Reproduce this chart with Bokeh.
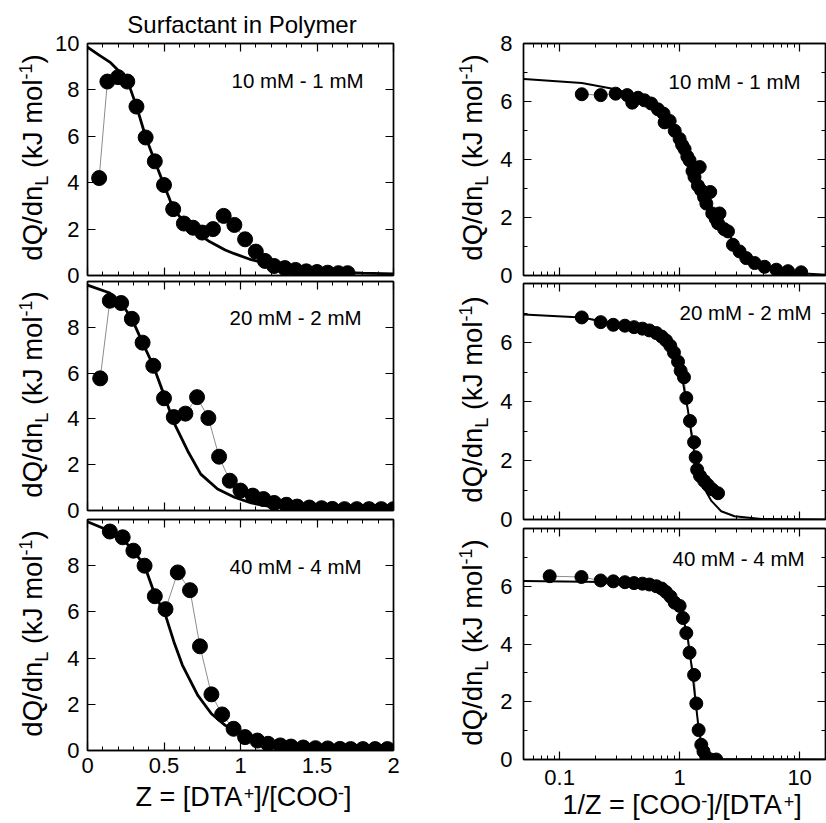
import math
from bokeh.plotting import figure
from bokeh.layouts import row, column
from bokeh.models import (Range1d, FixedTicker, LinearAxis, Label,
                          CustomJSTickFormatter, CustomLabelingPolicy)
from bokeh.embed import file_html
from bokeh.resources import INLINE

FONT = "Liberation Sans"

# ---------------- data ----------------
# Left column: Z = [DTA+]/[COO-]
l1_x = [0.076, 0.13, 0.20, 0.26, 0.32, 0.38, 0.44, 0.50, 0.56, 0.63, 0.69, 0.75, 0.82,
        0.89, 0.96, 1.03, 1.10, 1.16, 1.22, 1.29, 1.36, 1.43, 1.50, 1.57, 1.64, 1.70]
l1_y = [4.2, 8.36, 8.55, 8.36, 7.28, 5.95, 4.92, 3.9, 2.86, 2.24, 2.06, 1.85, 2.0,
        2.57, 2.18, 1.56, 1.03, 0.63, 0.41, 0.32, 0.24, 0.18, 0.15, 0.12, 0.1, 0.1]
l1_fit_x = [0, 0.076, 0.146, 0.2, 0.26, 0.32, 0.38, 0.44, 0.5, 0.56, 0.63, 0.7, 0.8,
            0.9, 0.96, 1.07, 1.18, 1.29, 1.39, 1.5, 1.61, 1.8, 2.0]
l1_fit_y = [9.84, 9.5, 9.2, 8.85, 8.42, 7.3, 5.98, 4.92, 3.9, 2.9, 2.3, 1.9, 1.45,
            1.1, 0.94, 0.68, 0.5, 0.35, 0.24, 0.18, 0.14, 0.1, 0.07]

l2_x = [0.083, 0.146, 0.22, 0.29, 0.36, 0.43, 0.50, 0.564, 0.64, 0.716, 0.79, 0.86, 0.93,
        1.0, 1.08, 1.15, 1.22, 1.30, 1.37, 1.45, 1.53, 1.60, 1.68, 1.76, 1.84, 1.92, 2.0]
l2_y = [5.77, 9.16, 9.06, 8.37, 7.33, 6.32, 4.9, 4.08, 4.23, 4.95, 4.04, 2.35, 1.30,
        0.87, 0.65, 0.5, 0.33, 0.25, 0.17, 0.13, 0.1, 0.07, 0.06, 0.06, 0.06, 0.06, 0.06]
l2_fit_x = [0, 0.146, 0.22, 0.29, 0.36, 0.43, 0.5, 0.564, 0.655, 0.74, 0.85, 0.96,
            1.07, 1.18, 1.39, 1.6, 2.0]
l2_fit_y = [9.84, 9.5, 9.06, 8.37, 7.33, 6.32, 5.05, 3.85, 2.6, 1.59, 0.94, 0.58,
            0.33, 0.19, 0.06, 0.02, 0.0]

l3_x = [0.146, 0.23, 0.30, 0.373, 0.44, 0.51, 0.59, 0.67, 0.735, 0.81, 0.88, 0.955, 1.03,
        1.11, 1.18, 1.26, 1.33, 1.41, 1.49, 1.57, 1.65, 1.72, 1.80, 1.88, 1.96]
l3_y = [9.48, 9.23, 8.65, 8.0, 6.68, 6.12, 7.71, 6.94, 4.51, 2.43, 1.56, 0.94, 0.58,
        0.43, 0.29, 0.22, 0.17, 0.13, 0.10, 0.09, 0.07, 0.06, 0.06, 0.06, 0.06]
l3_fit_x = [0, 0.146, 0.23, 0.30, 0.373, 0.44, 0.51, 0.565, 0.62, 0.72, 0.81, 0.9,
            0.96, 1.07, 1.18, 1.39, 1.6, 2.0]
l3_fit_y = [9.9, 9.5, 9.15, 8.65, 8.0, 6.75, 5.85, 4.7, 3.7, 2.4, 1.59, 1.09,
            0.87, 0.5, 0.29, 0.12, 0.06, 0.03]

# Right column: 1/Z = [COO-]/[DTA+]
r1_x = [0.153, 0.22, 0.293, 0.366, 0.403, 0.45, 0.51, 0.58, 0.66, 0.735, 0.75, 0.826,
        0.91, 1.0, 1.05, 1.1, 1.16, 1.21, 1.28, 1.33, 1.42, 1.47, 1.51, 1.6, 1.67, 1.8,
        1.87, 2.0, 2.09, 2.15, 2.35, 2.53, 2.78, 3.16, 3.59, 4.22, 5.1, 6.4, 8.0, 10.3]
r1_y = [6.25, 6.22, 6.27, 6.22, 5.96, 6.13, 6.04, 5.93, 5.73, 5.58, 5.28, 5.33,
        4.99, 4.71, 4.5, 4.36, 4.1, 3.97, 3.6, 3.40, 3.1, 3.74, 2.94, 2.7, 2.48, 2.88,
        2.14, 1.95, 1.80, 2.14, 1.6, 1.52, 1.06, 0.83, 0.6, 0.43, 0.3, 0.2, 0.15, 0.11]
r1_fit_x = [0.0504, 0.153, 0.27, 0.51, 0.70, 0.91, 1.1, 1.33, 1.62, 1.96, 2.37, 3.06,
            3.96, 5.44, 7.5, 11, 17]
r1_fit_y = [6.78, 6.64, 6.45, 6.13, 5.79, 5.1, 4.42, 3.62, 2.83, 2.14, 1.57, 1.0,
            0.6, 0.32, 0.15, 0.07, 0.02]

r2_x = [0.153, 0.22, 0.28, 0.35, 0.417, 0.49, 0.56, 0.64, 0.71, 0.77, 0.836, 0.897,
        0.97, 1.02, 1.087, 1.137, 1.22, 1.32, 1.36, 1.40, 1.48, 1.6, 1.72, 1.87, 2.09]
r2_y = [6.85, 6.69, 6.60, 6.57, 6.52, 6.47, 6.41, 6.32, 6.2, 6.07, 5.89, 5.66,
        5.35, 5.04, 4.82, 4.12, 3.34, 2.62, 2.11, 1.69, 1.48, 1.31, 1.17, 1.02, 0.89]
r2_fit_x = [0.0504, 0.153, 0.27, 0.51, 0.70, 0.908, 1.046, 1.173, 1.29, 1.40, 1.56,
            1.84, 2.22, 2.87, 4.79, 17]
r2_fit_y = [6.95, 6.85, 6.66, 6.43, 6.2, 5.58, 4.84, 3.7, 2.56, 1.65, 1.14,
            0.63, 0.28, 0.11, 0.02, 0.0]

r3_x = [0.0826, 0.152, 0.22, 0.28, 0.35, 0.417, 0.49, 0.56, 0.64, 0.71, 0.77, 0.84,
        0.91, 1.0, 1.066, 1.137, 1.21, 1.32, 1.377, 1.44, 1.515, 1.58, 1.67, 1.81, 2.02]
r3_y = [6.35, 6.32, 6.2, 6.17, 6.14, 6.11, 6.09, 6.06, 6.0, 5.92, 5.8, 5.64,
        5.43, 5.32, 4.9, 4.38, 3.7, 2.93, 1.94, 1.02, 0.51, 0.28, 0.08, 0.0, 0.0]
r3_fit_x = [0.0504, 0.51, 0.75, 0.908, 1.066, 1.173, 1.267, 1.35, 1.44, 1.535, 1.67,
            1.84, 17]
r3_fit_y = [6.18, 6.13, 5.98, 5.64, 4.95, 4.16, 3.13, 2.1, 1.08, 0.46, 0.11,
            0.02, 0.0]

panel_labels = ["10 mM - 1 mM", "20 mM - 2 mM", "40 mM - 4 mM"]
left_title = "Surfactant in Polymer"

left_xticks = [0, 0.5, 1, 1.5, 2]
left_xminor = [0.1, 0.2, 0.3, 0.4, 0.6, 0.7, 0.8, 0.9, 1.1, 1.2, 1.3, 1.4, 1.6, 1.7, 1.8, 1.9]
left_yticks = [0, 2, 4, 6, 8, 10]
right_xticks = [0.1, 1, 10]
right_xminor = [0.06, 0.07, 0.08, 0.09, 0.2, 0.3, 0.4, 0.5, 0.6, 0.7, 0.8, 0.9,
                2, 3, 4, 5, 6, 7, 8, 9]
right_yticks = [0, 2, 4, 6, 8]
right_yminor = [1, 3, 5, 7]

# ---------------- helpers ----------------
AW = {' ': 278, '(': 333, ')': 333, '+': 584, '-': 333, '/': 278, '1': 556, '=': 584,
      '[': 278, ']': 278, 'A': 667, 'C': 722, 'D': 722, 'J': 500, 'L': 556, 'O': 778,
      'Q': 778, 'T': 611, 'Z': 611, 'd': 556, 'k': 500, 'l': 222, 'm': 833, 'n': 556,
      'o': 556}
K_BASE = 0.355   # measured drop of Label text below its anchor, in em


def tw(s, size):
    return sum(AW.get(c, 556) for c in s) / 1000.0 * size


def runs_width(runs):
    return sum(tw(t, s) for t, s, _ in runs)


def mk_label(p, x, y, text, size, angle=0.0, align="left", x_off=0.0, y_off=0.0):
    if angle:
        x_off -= K_BASE * size
    else:
        y_off += K_BASE * size
    lab = Label(x=x, y=y, x_offset=x_off, y_offset=y_off, text=text, angle=angle,
                text_align=align, text_baseline="alphabetic")
    lab.text_font = FONT
    lab.text_font_size = "%gpx" % size
    lab.text_color = "black"
    p.add_layout(lab)


def add_runs(p, runs, x, y, vertical=False):
    """Place text runs (text, size, baseline shift) one after another, in data
    coordinates of a pixel-unit strip figure."""
    pos = 0.0
    for text, size, shift in runs:
        lead = len(text) - len(text.lstrip(' '))
        pos += tw(' ' * lead, size)
        t = text.lstrip(' ')
        if vertical:
            mk_label(p, x - shift, y + pos, t, size, angle=math.pi / 2)
        else:
            mk_label(p, x + pos, y + shift, t, size)
        pos += tw(t, size)


HIDE = CustomLabelingPolicy(code="for (const i of indices) indices.unset(i)")


def style_axis(ax, major_in, minor_in, labels, code=None, standoff=8):
    ax.major_tick_in = major_in
    ax.major_tick_out = 0
    ax.minor_tick_in = minor_in
    ax.minor_tick_out = 0
    ax.axis_line_color = "black"
    ax.axis_line_width = 1.4
    ax.major_tick_line_color = "black"
    ax.major_tick_line_width = 1.2
    ax.minor_tick_line_color = "black"
    ax.minor_tick_line_width = 1.0
    ax.axis_label = None
    if labels:
        ax.major_label_text_font = FONT
        ax.major_label_text_font_size = "22px"
        ax.major_label_text_color = "black"
        ax.major_label_standoff = standoff
        ax.formatter = CustomJSTickFormatter(code=code)
    else:
        ax.major_label_text_font_size = "0px"
        ax.major_label_standoff = 0
        ax.major_label_policy = HIDE


def strip(width, height, frame_w=None, left=0, right=0):
    fw = width if frame_w is None else frame_w
    s = figure(width=width, height=height, x_range=Range1d(0, fw), y_range=Range1d(0, height),
               output_backend="svg", toolbar_location=None,
               x_axis_location=None, y_axis_location=None,
               min_border_top=0, min_border_bottom=0, min_border_left=left, min_border_right=right)
    s.grid.visible = False
    s.outline_line_color = None
    s.background_fill_alpha = 0
    s.border_fill_alpha = 0
    return s


def make_panel(side, idx, width, height, borders, margin_top, xs, ys, fx, fy):
    top, bottom, left, right = borders
    log = side == "R"
    xr = Range1d(0.05, 16.43) if log else Range1d(0, 2)
    yr = Range1d(0, 8) if log else Range1d(0, 10)
    p = figure(width=width, height=height, x_range=xr, y_range=yr,
               x_axis_type="log" if log else "linear", x_axis_location=None,
               output_backend="svg", toolbar_location=None,
               min_border_top=top, min_border_bottom=bottom,
               min_border_left=left, min_border_right=right,
               margin=(margin_top, 0, 0, 0))
    p.grid.visible = False
    p.outline_line_color = "black"
    p.outline_line_width = 1.4
    p.background_fill_color = "white"
    p.border_fill_alpha = 0

    if log:
        xt = FixedTicker(ticks=right_xticks, minor_ticks=right_xminor)
        yt = FixedTicker(ticks=right_yticks, minor_ticks=right_yminor)
        ycode = "return String(tick)" if idx == 0 else "return tick >= 8 ? '' : String(tick)"
    else:
        xt = FixedTicker(ticks=left_xticks, minor_ticks=left_xminor)
        yt = FixedTicker(ticks=left_yticks)
        ycode = "return String(tick)" if idx == 0 else "return tick >= 10 ? '' : String(tick)"

    bx = LinearAxis(ticker=xt)
    style_axis(bx, 8, 4, idx == 2, "return String(tick)", standoff=7 if not log else 10)
    p.add_layout(bx, "below")
    ly = p.yaxis[0]
    ly.ticker = yt
    style_axis(ly, 8, 4, True, ycode, standoff=8 if not log else 11)

    ax_top = LinearAxis(ticker=xt)
    style_axis(ax_top, 8, 4, False)
    p.add_layout(ax_top, "above")
    ax_right = LinearAxis(ticker=yt)
    style_axis(ax_right, 8, 4, False)
    p.add_layout(ax_right, "right")

    lw = 2.0 if log else 2.8
    msize = 13 if log else 15
    p.line(xs, ys, line_color="#8c8c8c", line_width=1)
    p.line(fx, fy, line_color="black", line_width=lw)
    p.scatter(xs, ys, size=msize, fill_color="black", line_color="black", marker="circle")

    if log:
        lab_off = [(145, -45), (156, -36), (149, -37)][idx]
        x0 = 0.05
    else:
        lab_off = [(144, -44), (142, -43), (142, -54)][idx]
        x0 = 0
    mk_label(p, x0, yr.end, panel_labels[idx], 20.5, x_off=lab_off[0], y_off=lab_off[1])
    return p


# ---------------- layout (pixel positions) ----------------
H = 823
YL, YS = 27.5, 18
ylabel_runs = [("dQ/dn", YL, 0), ("L", YS, -6), (" (kJ mol", YL, 0), ("-1", YS, 10), (")", YL, 0)]
YLW = runs_width(ylabel_runs)

ylab_left = strip(52, H)
for cy in [157, 394, 633]:
    add_runs(ylab_left, ylabel_runs, 41.7, H - (cy + YLW / 2.0), vertical=True)

ylab_right = strip(65, H)
for cy in [157, 399, 642]:
    add_runs(ylab_right, ylabel_runs, 51.7, H - (cy + YLW / 2.0), vertical=True)

# strips placed under the panel frames (same side borders as the panels)
title_strip = strip(378, 38, 307, 34, 37)
mk_label(title_strip, 155, 5, left_title, 24, align="center")

XT = 27
left_runs = [("Z = [DTA", XT, 0), ("+", YS, 7), ("]/[COO", XT, 0), ("-", YS, 8), ("]", XT, 0)]
right_runs = [("1/Z = [COO", XT, 0), ("-", YS, 8), ("]/[DTA", XT, 0), ("+", YS, 7), ("]", XT, 0)]
xt_left = strip(378, 45, 307, 34, 37)
add_runs(xt_left, left_runs, 156.5 - runs_width(left_runs) / 2.0, 17)
xt_right = strip(331, 32, 302, 28, 1)
add_runs(xt_right, right_runs, 158.7 - runs_width(right_runs) / 2.0, 9)

# panels: canvases reach past their neighbours (transparent borders, negative top
# margins) so that tick labels at the frame edges are not cut
L1 = make_panel("L", 0, 378, 260, (13, 15, 34, 37), -8, l1_x, l1_y, l1_fit_x, l1_fit_y)
L2 = make_panel("L", 1, 378, 260, (15, 16, 34, 37), -24, l2_x, l2_y, l2_fit_x, l2_fit_y)
L3 = make_panel("L", 2, 378, 276, (17, 28, 34, 37), -24, l3_x, l3_y, l3_fit_x, l3_fit_y)
R1 = make_panel("R", 0, 331, 291, (43, 16, 28, 1), 0, r1_x, r1_y, r1_fit_x, r1_fit_y)
R2 = make_panel("R", 1, 331, 268, (16, 16, 28, 1), -24, r2_x, r2_y, r2_fit_x, r2_fit_y)
R3 = make_panel("R", 2, 331, 280, (17, 32, 28, 1), -24, r3_x, r3_y, r3_fit_x, r3_fit_y)

left_col = column(title_strip, L1, L2, L3, xt_left, spacing=0)
right_col = column(R1, R2, R3, xt_right, spacing=0)
layout = row(ylab_left, left_col, ylab_right, right_col, spacing=0)

open("out.html", "w").write(file_html(layout, INLINE))
